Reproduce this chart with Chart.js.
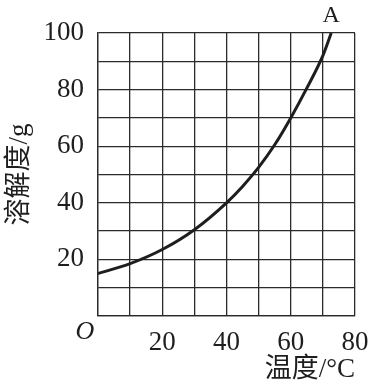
<!DOCTYPE html>
<html>
<head>
<meta charset="utf-8">
<script src="https://cdn.jsdelivr.net/npm/chart.js@4"></script>
<style>
  body { margin: 0; background: #fff; }
</style>
</head>
<body>
<canvas id="chart" width="373" height="385"></canvas>
<script>
// temperature (°C) and solubility (g)
const temps = [0, 10, 20, 30, 40, 45, 50, 55, 60, 65, 70, 72.6];
const solubility = [15, 18.5, 23.5, 30.5, 40, 45.8, 52.5, 60.5, 70, 80.5, 92, 100];
const curveLabel = 'A';
const originLabel = 'O';
const xTitle = '温度/°C';
const yTitle = '溶解度/g';

const ink = '#1e1e1e';
const serif = '"Liberation Serif", "Times New Roman", "Noto Sans CJK SC", serif';

// draws the "O" at the origin and the "A" at the end of the curve
const labelPlugin = {
    id: 'labels',
    afterDraw(chart) {
        const { ctx, scales } = chart;
        ctx.save();
        ctx.fillStyle = ink;
        ctx.textAlign = 'center';
        ctx.textBaseline = 'middle';
        ctx.font = 'italic 26px ' + serif;
        ctx.fillText(originLabel, scales.x.getPixelForValue(0) - 13, scales.y.getPixelForValue(0) + 16);
        const last = temps.length - 1;
        ctx.font = '24px ' + serif;
        ctx.fillText(curveLabel, scales.x.getPixelForValue(temps[last]), scales.y.getPixelForValue(solubility[last]) - 17);
        ctx.restore();
    },
};

new Chart(document.getElementById('chart'), {
    type: 'line',
    data: {
        datasets: [{
            data: temps.map((t, i) => ({ x: t, y: solubility[i] })),
            borderColor: ink,
            borderWidth: 3,
            pointRadius: 0,
            cubicInterpolationMode: 'monotone',
            fill: false,
        }],
    },
    options: {
        responsive: false,
        animation: false,
        layout: { padding: { top: 33, right: 18 } },
        plugins: { legend: { display: false }, tooltip: { enabled: false } },
        scales: {
            x: {
                type: 'linear',
                min: 0,
                max: 80,
                grid: { color: '#2a2a2a', lineWidth: 1.3, drawTicks: false },
                border: { color: '#2a2a2a', width: 1.3 },
                ticks: {
                    stepSize: 10,
                    padding: 11,
                    color: ink,
                    font: { family: serif, size: 27 },
                    maxRotation: 0,
                    autoSkip: false,
                    callback: (v) => (v % 20 === 0 && v !== 0 ? v : ''),
                },
                title: {
                    display: true,
                    text: xTitle,
                    align: 'end',
                    color: ink,
                    font: { family: serif, size: 27, lineHeight: 1 },
                    padding: { top: 0, bottom: 2 },
                },
                afterFit: (scale) => {
                    scale.height = 69;
                    scale.paddingLeft = 0;
                    scale.paddingRight = 0;
                },
            },
            y: {
                min: 0,
                max: 100,
                grid: { color: '#2a2a2a', lineWidth: 1.3, drawTicks: false },
                border: { color: '#2a2a2a', width: 1.3 },
                ticks: {
                    stepSize: 10,
                    padding: 14,
                    color: ink,
                    font: { family: serif, size: 27 },
                    autoSkip: false,
                    callback: (v) => (v % 20 === 0 && v !== 0 ? v : ''),
                },
                title: {
                    display: true,
                    text: yTitle,
                    color: ink,
                    font: { family: serif, size: 27, lineHeight: 1 },
                    padding: { top: 6, bottom: 0 },
                },
                afterFit: (scale) => { scale.width = 98; },
            },
        },
    },
    plugins: [labelPlugin],
});
</script>
</body>
</html>
